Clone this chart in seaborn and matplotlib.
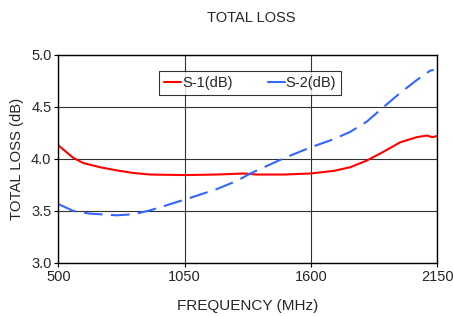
import pandas as pd
import matplotlib.pyplot as plt
import seaborn as sns

# data
freq_s1 = [500, 565, 609, 682, 754, 827, 900, 1052, 1190, 1307, 1365, 1481, 1597,
           1699, 1771, 1844, 1917, 1989, 2062, 2106, 2128, 2150]
loss_s1 = [4.13, 4.01, 3.96, 3.92, 3.89, 3.865, 3.85, 3.845, 3.85, 3.86, 3.85, 3.85, 3.86,
           3.885, 3.92, 3.985, 4.07, 4.16, 4.21, 4.225, 4.21, 4.22]
freq_s2 = [500, 565, 638, 754, 827, 900, 1052, 1190, 1278, 1336, 1481, 1597,
           1699, 1771, 1844, 1917, 1989, 2062, 2120, 2135]
loss_s2 = [3.565, 3.50, 3.474, 3.458, 3.468, 3.506, 3.61, 3.71, 3.79, 3.86, 4.006, 4.11,
           4.19, 4.26, 4.36, 4.50, 4.635, 4.76, 4.85, 4.855]
x_ticks = [500, 1050, 1600, 2150]
y_ticks = [3.0, 3.5, 4.0, 4.5, 5.0]

df1 = pd.DataFrame({"freq": freq_s1, "loss": loss_s1})
df2 = pd.DataFrame({"freq": freq_s2, "loss": loss_s2})

sns.set_style("white")
plt.rcParams["font.family"] = ["Liberation Sans", "DejaVu Sans"]

fig = plt.figure(figsize=(4.53, 3.16), dpi=100)
ax = fig.add_axes([0.129, 0.168, 0.836, 0.658])

sns.lineplot(data=df1, x="freq", y="loss", ax=ax, color="#ff0000", linewidth=1.5,
             label="S-1(dB)")
sns.lineplot(data=df2, x="freq", y="loss", ax=ax, color="#3366ff", linewidth=1.5,
             linestyle=(0, (9, 4)), label="S-2(dB)")

ax.set_xlim(500, 2150)
ax.set_ylim(3.0, 5.0)
ax.set_xticks(x_ticks)
ax.set_yticks(y_ticks)
ax.set_yticklabels([f"{v:.1f}" for v in y_ticks])
ax.grid(True, color="#333333", linewidth=0.8)
for s in ax.spines.values():
    s.set_color("black")
    s.set_linewidth(1.0)
ax.tick_params(axis="both", labelsize=10.5, direction="out", length=3, color="black",
               bottom=True, left=True, pad=2)

ax.set_xlabel("FREQUENCY (MHz)", fontsize=11, labelpad=11)
ax.set_ylabel("TOTAL LOSS (dB)", fontsize=10.7, labelpad=5)
fig.text(0.554, 0.943, "TOTAL LOSS", ha="center", va="center", fontsize=10.5)

leg = ax.legend(loc="center", bbox_to_anchor=(0.506, 0.865), ncol=2, fontsize=10.5,
                frameon=True, fancybox=False, handlelength=1.2, handletextpad=0.05,
                columnspacing=2.4, borderpad=0.35, borderaxespad=0)
leg.get_frame().set_edgecolor("black")
leg.get_frame().set_linewidth(0.8)
leg.get_lines()[1].set_linestyle("-")

plt.savefig("out.png", dpi=100)
